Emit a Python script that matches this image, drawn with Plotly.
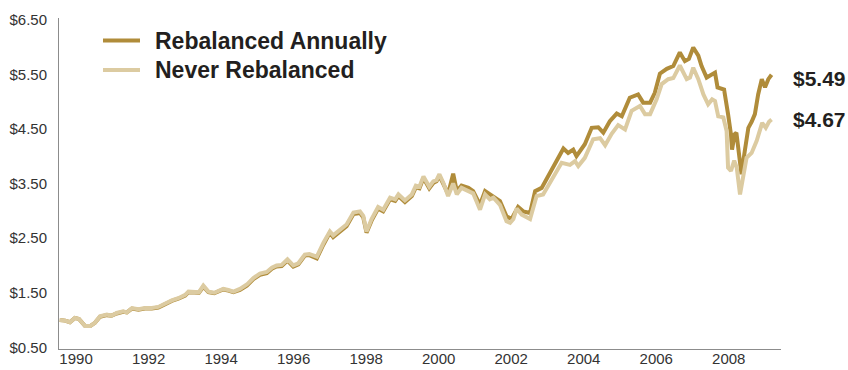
import plotly.graph_objects as go

# Growth of $1 — portfolio rebalanced each year vs. never rebalanced
never_years = [
    1989.55, 1989.70, 1989.83, 1989.97, 1990.08, 1990.25, 1990.39, 1990.52, 1990.66, 1990.85,
    1990.98, 1991.12, 1991.30, 1991.40, 1991.54, 1991.72, 1991.90, 1992.09, 1992.27, 1992.45,
    1992.64, 1992.82, 1993.01, 1993.10, 1993.28, 1993.39, 1993.51, 1993.65, 1993.81, 1994.06,
    1994.20, 1994.34, 1994.52, 1994.71, 1994.89, 1995.07, 1995.26, 1995.40, 1995.53, 1995.67,
    1995.83, 1995.99, 1996.13, 1996.31, 1996.43, 1996.64, 1996.82, 1997.00, 1997.09, 1997.28,
    1997.46, 1997.65, 1997.83, 1997.92, 1998.01, 1998.15, 1998.33, 1998.47, 1998.66, 1998.80,
    1998.89, 1999.07, 1999.26, 1999.37, 1999.47, 1999.58, 1999.74, 1999.85, 1999.94, 2000.02,
    2000.13, 2000.26, 2000.40, 2000.50, 2000.63, 2000.82, 2000.95, 2001.14, 2001.28, 2001.41,
    2001.51, 2001.69, 2001.87, 2001.97, 2002.06, 2002.15, 2002.29, 2002.52, 2002.61, 2002.70,
    2002.88, 2003.02, 2003.21, 2003.39, 2003.62, 2003.76, 2003.85, 2004.03, 2004.26, 2004.45,
    2004.59, 2004.77, 2004.95, 2005.14, 2005.32, 2005.55, 2005.69, 2005.83, 2006.01, 2006.15,
    2006.33, 2006.47, 2006.65, 2006.84, 2006.93, 2007.02, 2007.16, 2007.30, 2007.43, 2007.54,
    2007.62, 2007.71, 2007.85, 2007.94, 2007.98, 2008.06, 2008.15, 2008.22, 2008.31, 2008.40,
    2008.49, 2008.63, 2008.77, 2008.92, 2009.02, 2009.11, 2009.18,
]
never_values = [
    1.00, 0.99, 0.96, 1.04, 1.02, 0.89, 0.89, 0.95, 1.07, 1.10,
    1.08, 1.13, 1.16, 1.14, 1.22, 1.20, 1.22, 1.22, 1.24, 1.30,
    1.36, 1.40, 1.46, 1.52, 1.51, 1.51, 1.63, 1.52, 1.50, 1.57,
    1.55, 1.52, 1.57, 1.65, 1.77, 1.85, 1.88, 1.96, 2.00, 2.01,
    2.11, 2.00, 2.04, 2.20, 2.21, 2.16, 2.41, 2.62, 2.55, 2.66,
    2.75, 2.97, 2.99, 2.91, 2.62, 2.85, 3.07, 3.02, 3.24, 3.21,
    3.30, 3.19, 3.30, 3.46, 3.44, 3.63, 3.44, 3.54, 3.56, 3.67,
    3.51, 3.27, 3.50, 3.30, 3.42, 3.36, 3.32, 3.02, 3.30, 3.21,
    3.24, 3.11, 2.81, 2.78, 2.85, 3.04, 2.93, 2.85, 3.05, 3.27,
    3.30, 3.45, 3.67, 3.88, 3.84, 3.91, 3.82, 3.97, 4.31, 4.33,
    4.20, 4.41, 4.57, 4.49, 4.83, 4.92, 4.77, 4.77, 5.04, 5.32,
    5.41, 5.43, 5.66, 5.41, 5.44, 5.62, 5.41, 5.13, 4.95, 5.04,
    5.01, 4.73, 4.71, 4.46, 3.79, 3.73, 3.92, 3.79, 3.30, 3.67,
    3.97, 4.06, 4.28, 4.61, 4.52, 4.63, 4.67,
]

rebal_years = [
    1989.55, 1989.70, 1989.83, 1989.97, 1990.08, 1990.25, 1990.39, 1990.52, 1990.66, 1990.85,
    1990.98, 1991.12, 1991.30, 1991.40, 1991.54, 1991.72, 1991.90, 1992.09, 1992.27, 1992.45,
    1992.64, 1992.82, 1993.01, 1993.10, 1993.28, 1993.39, 1993.51, 1993.65, 1993.81, 1994.06,
    1994.20, 1994.34, 1994.52, 1994.71, 1994.89, 1995.07, 1995.26, 1995.40, 1995.53, 1995.67,
    1995.83, 1995.99, 1996.13, 1996.31, 1996.43, 1996.64, 1996.82, 1997.00, 1997.09, 1997.28,
    1997.46, 1997.65, 1997.83, 1997.92, 1998.01, 1998.15, 1998.33, 1998.47, 1998.66, 1998.80,
    1998.89, 1999.07, 1999.26, 1999.37, 1999.47, 1999.58, 1999.74, 1999.85, 1999.94, 2000.02,
    2000.13, 2000.26, 2000.40, 2000.50, 2000.63, 2000.82, 2000.95, 2001.14, 2001.28, 2001.46,
    2001.69, 2001.87, 2002.01, 2002.19, 2002.33, 2002.52, 2002.66, 2002.84, 2003.07, 2003.25,
    2003.44, 2003.57, 2003.71, 2003.80, 2004.03, 2004.22, 2004.40, 2004.54, 2004.72, 2004.91,
    2005.05, 2005.27, 2005.50, 2005.64, 2005.83, 2005.96, 2006.10, 2006.29, 2006.47, 2006.65,
    2006.79, 2006.90, 2007.02, 2007.16, 2007.25, 2007.39, 2007.53, 2007.62, 2007.69, 2007.87,
    2007.98, 2008.06, 2008.09, 2008.16, 2008.21, 2008.28, 2008.35, 2008.44, 2008.54, 2008.63,
    2008.72, 2008.81, 2008.91, 2009.00, 2009.09, 2009.18,
]
rebal_values = [
    1.00, 0.99, 0.96, 1.04, 1.02, 0.89, 0.89, 0.95, 1.06, 1.09,
    1.08, 1.12, 1.15, 1.14, 1.21, 1.19, 1.21, 1.21, 1.23, 1.29,
    1.35, 1.39, 1.45, 1.51, 1.50, 1.50, 1.61, 1.51, 1.49, 1.56,
    1.54, 1.51, 1.55, 1.63, 1.75, 1.83, 1.86, 1.94, 1.98, 1.99,
    2.09, 1.98, 2.02, 2.18, 2.19, 2.13, 2.38, 2.60, 2.52, 2.63,
    2.72, 2.94, 2.96, 2.88, 2.60, 2.82, 3.04, 2.99, 3.21, 3.18,
    3.27, 3.16, 3.27, 3.43, 3.41, 3.60, 3.41, 3.51, 3.54, 3.64,
    3.50, 3.31, 3.68, 3.36, 3.46, 3.42, 3.36, 3.11, 3.36, 3.28,
    3.18, 2.90, 2.85, 3.07, 2.99, 2.96, 3.36, 3.42, 3.70, 3.94,
    4.14, 4.06, 4.12, 4.00, 4.22, 4.52, 4.53, 4.43, 4.64, 4.78,
    4.73, 5.07, 5.13, 4.98, 4.98, 5.16, 5.51, 5.60, 5.65, 5.90,
    5.74, 5.78, 5.99, 5.84, 5.65, 5.44, 5.50, 5.53, 5.26, 5.22,
    4.77, 4.40, 4.12, 4.40, 4.43, 3.97, 3.67, 4.09, 4.52, 4.63,
    4.77, 5.13, 5.41, 5.26, 5.41, 5.49,
]

series_names = ["Rebalanced Annually", "Never Rebalanced"]
series_colors = ["#B08C3A", "#DCCBA1"]
x_tick_years = [1990, 1992, 1994, 1996, 1998, 2000, 2002, 2004, 2006, 2008]
y_tick_values = [0.5, 1.5, 2.5, 3.5, 4.5, 5.5, 6.5]
y_tick_labels = ["$0.50", "$1.50", "$2.50", "$3.50", "$4.50", "$5.50", "$6.50"]

W, H = 848, 370
M_L, M_R, M_T, M_B = 59, 67, 18, 21
FONT = "Liberation Sans, Arial, sans-serif"
TEXT_DARK = "#231F20"


def paper_x(px):
    return (px - M_L) / (W - M_L - M_R)


def paper_y(py):
    return (H - M_B - py) / (H - M_T - M_B)


fig = go.Figure()
fig.add_trace(go.Scatter(
    x=rebal_years, y=rebal_values, mode="lines", name=series_names[0],
    line=dict(color=series_colors[0], width=4),
))
fig.add_trace(go.Scatter(
    x=never_years, y=never_values, mode="lines", name=series_names[1],
    line=dict(color=series_colors[1], width=4),
))

# legend keys drawn as short strokes beside bold labels
shapes = []
annotations = []
for i, (name, color) in enumerate(zip(series_names, series_colors)):
    row_y = 40.5 + i * 29.5
    shapes.append(dict(
        type="line", xref="paper", yref="paper",
        x0=paper_x(103), x1=paper_x(140), y0=paper_y(row_y), y1=paper_y(row_y),
        line=dict(color=color, width=4),
    ))
    annotations.append(dict(
        xref="paper", yref="paper", x=paper_x(153), y=paper_y(row_y),
        xanchor="left", yanchor="middle", showarrow=False,
        text=f"<b>{name}</b>", font=dict(family=FONT, size=23, color=TEXT_DARK),
    ))

# final values labelled at the right end of each line
for years, values, dy in ((rebal_years, rebal_values, -4), (never_years, never_values, 0)):
    annotations.append(dict(
        xref="x", yref="y", x=years[-1], y=values[-1],
        xanchor="left", yanchor="middle", showarrow=False,
        xshift=19, yshift=dy,
        text=f"<b>${values[-1]:.2f}</b>", font=dict(family=FONT, size=21, color=TEXT_DARK),
    ))

fig.update_layout(
    width=W, height=H,
    margin=dict(l=M_L, r=M_R, t=M_T, b=M_B),
    paper_bgcolor="white", plot_bgcolor="white",
    showlegend=False,
    shapes=shapes, annotations=annotations,
    font=dict(family=FONT, size=15, color="#333333"),
)
fig.update_xaxes(
    range=[1989.53, 2009.44], tickvals=x_tick_years, ticktext=[str(y) for y in x_tick_years],
    showgrid=False, zeroline=False, showline=True, linecolor="#8C8C8C", linewidth=1,
    ticks="", ticklabelstandoff=-4, automargin=False,
)
fig.update_yaxes(
    range=[0.47, 6.53], tickvals=y_tick_values, ticktext=y_tick_labels,
    showgrid=False, zeroline=False, showline=True, linecolor="#8C8C8C", linewidth=1,
    ticks="", ticklabelstandoff=8, automargin=False,
)

fig.write_html("out.html")
